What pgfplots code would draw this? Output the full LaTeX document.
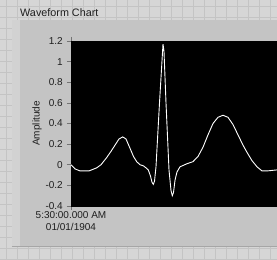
\documentclass[border=0pt]{standalone}
\usepackage{pgfplots}
\pgfplotsset{compat=1.18}
\usepackage{pgfplotstable}
\usepackage{fontspec}
\setmainfont{Liberation Sans}
\definecolor{gridbg}{HTML}{D6D6D6}
\definecolor{gridln}{HTML}{C4C4C4}
\definecolor{panel}{HTML}{C4C4C4}
\definecolor{bezel}{HTML}{D2D2D2}
\definecolor{txt}{HTML}{1E1E1E}
\pgfplotstableread{
x y
0 0.00
4 -0.04
9 -0.06
18 -0.06
25.7 -0.03
30 0.00
35.7 0.07
40 0.13
44 0.19
48 0.25
51.7 0.27
55 0.25
59 0.16
62.5 0.08
65.7 0.03
69 0.00
72.3 -0.01
75 -0.03
77.3 -0.05
79.5 -0.11
81 -0.17
82.3 -0.19
83.5 -0.16
85 -0.02
88.5 0.60
92 1.17
93 1.10
95 0.60
98 -0.05
100 -0.25
101.3 -0.30
102.5 -0.27
104 -0.15
106 -0.07
109 -0.02
116 0.01
122 0.03
127 0.08
132 0.17
137 0.29
142 0.40
147 0.46
152 0.48
157 0.46
162 0.39
167 0.29
172 0.19
176 0.12
181 0.04
186 -0.02
191 -0.06
196 -0.06
206 -0.05
}\ecg
\begin{document}
\begin{tikzpicture}[x=1pt,y=1pt]
\useasboundingbox (0,0) rectangle (277,260);
\clip (0,0) rectangle (277,260);
% background grid
\fill[gridbg] (0,0) rectangle (277,260);
\foreach \i in {0,...,25} {\draw[gridln, line width=0.8pt] (6+11*\i,0) -- (6+11*\i,260);}
\foreach \j in {0,...,24} {\draw[gridln, line width=0.8pt] (0,260-6-11*\j) -- (277,260-6-11*\j);}
% panel
\fill[panel] (12,14) rectangle (277,240);
\fill[bezel] (12,14) rectangle (20,240);
\draw[gray!70, line width=0.6pt] (12,14) -- (277,14);
% title
\node[anchor=base west, inner sep=0pt, text=txt, font=\fontsize{10.8}{12}\selectfont] at (20,243.5) {Waveform Chart};
\begin{axis}[
  at={(71pt,54pt)}, anchor=south west,
  scale only axis, width=206pt, height=165pt,
  xmin=0, xmax=206, ymin=-0.4, ymax=1.2,
  axis background/.style={fill=black},
  axis line style={draw=black},
  ytick={-0.4,-0.2,0,0.2,0.4,0.6,0.8,1,1.2},
  yticklabels={-0.4,-0.2,0,0.2,0.4,0.6,0.8,1,1.2},
  xtick={0},
  xticklabels={{5:30:00.000 AM\\01/01/1904}},
  tick align=outside,
  major tick length=4pt,
  tick style={black!55, line width=0.6pt},
  yticklabel style={font=\fontsize{10}{12}\selectfont, text=txt, inner sep=0pt, xshift=-4pt},
  xticklabel style={font=\fontsize{10}{12}\selectfont, text=txt, align=center, inner sep=0pt, yshift=-1pt},
  ylabel={Amplitude},
  ylabel style={font=\fontsize{10}{12}\selectfont, text=txt, at={(axis description cs:-0.165,0.5)}, anchor=center, rotate=0},
  clip=true,
]
\addplot[white, line width=0.9pt] table[x=x,y=y] {\ecg};
\end{axis}
\end{tikzpicture}
\end{document}
